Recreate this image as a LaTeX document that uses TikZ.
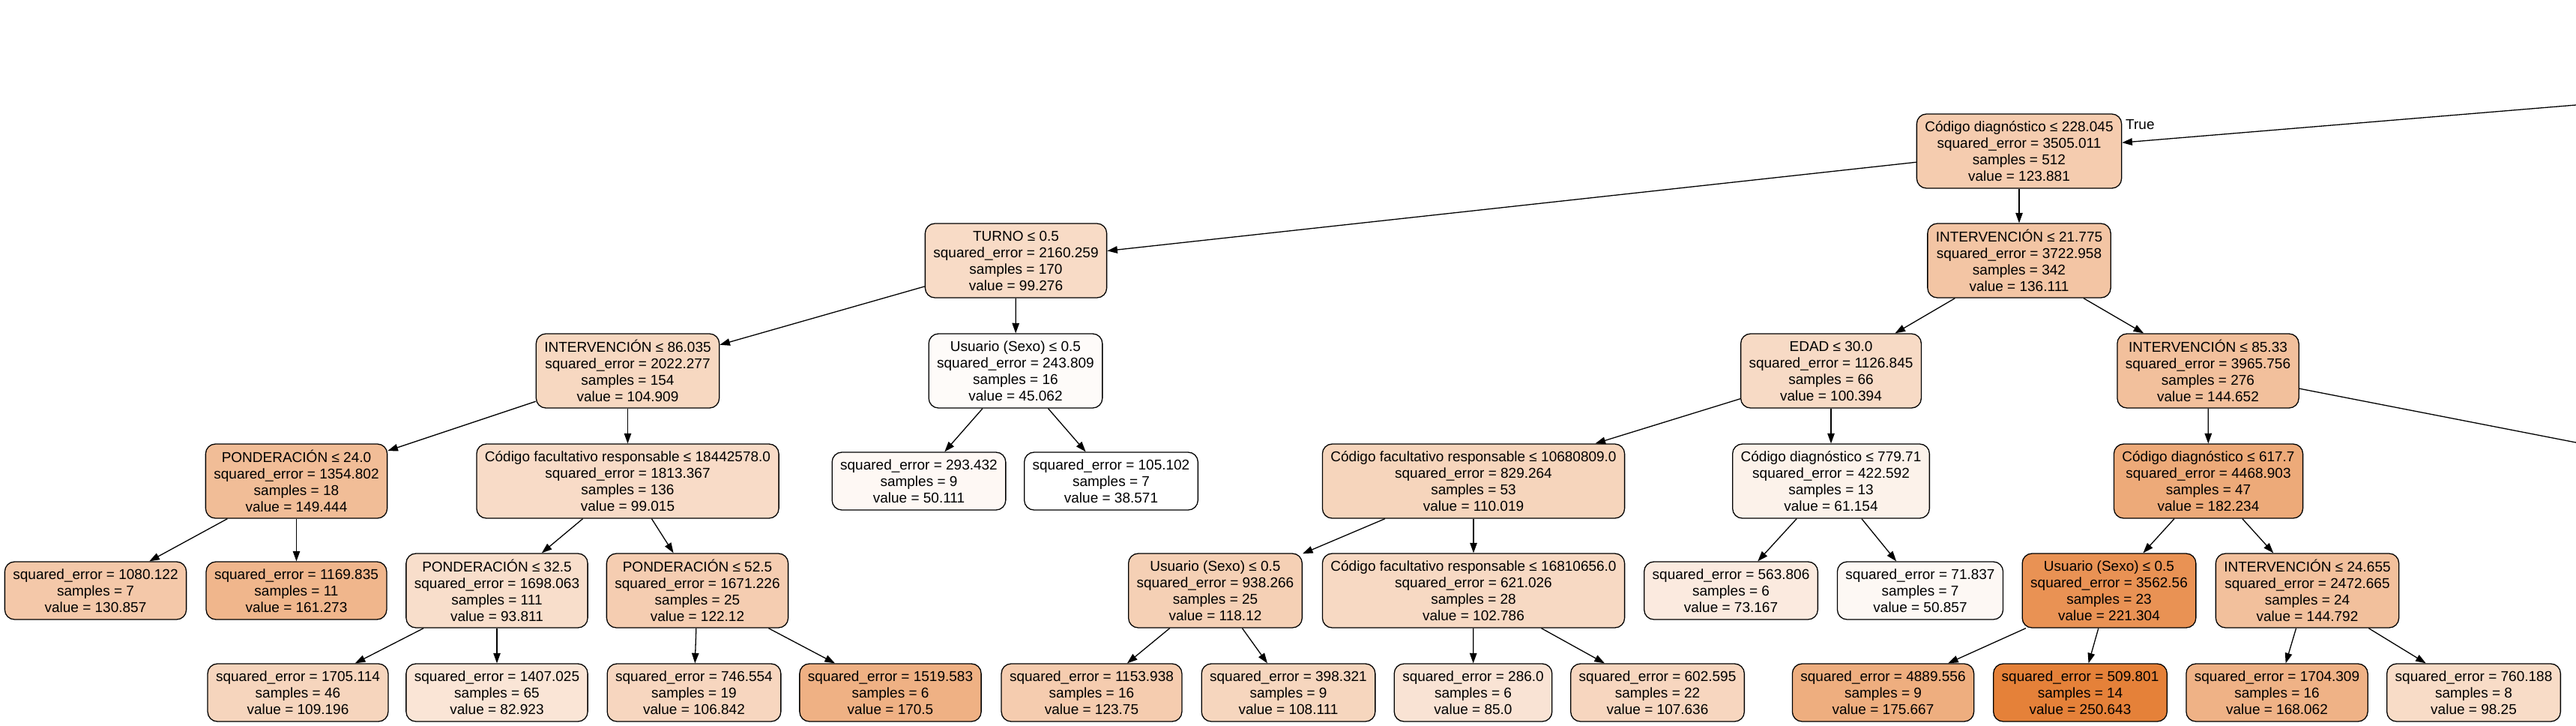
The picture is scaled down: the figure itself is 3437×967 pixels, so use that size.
\documentclass[tikz,border=0pt]{standalone}
\usepackage{fontspec}
\setmainfont{Liberation Sans}
\usepackage{xcolor}
\usetikzlibrary{arrows.meta}

\definecolor{dtorange}{HTML}{E58139}
\newcommand{\stats}[3]{squared\_error = #1\\samples = #2\\value = #3}

\begin{document}
\begin{tikzpicture}[x=1pt,y=-1pt,
  box/.style={draw=black, line width=1.3pt, rounded corners=13pt, align=center,
    inner xsep=11pt, inner ysep=0pt, font=\fontsize{19}{22}\selectfont},
  split/.style={box, minimum height=99pt},
  leaf/.style={box, minimum height=77pt},
  tint/.code={\pgfmathsetmacro\pct{(#1-38.571)/2.12072}%
    \edef\tmpfill{\noexpand\tikzset{fill=dtorange!\pct!white}}\tmpfill},
  edge/.style={-{Triangle[length=13.6pt,width=9.5pt]}, line width=1.3pt}]
  \useasboundingbox (0,0) rectangle (3437,967);

  % Level 0 and 1
  \node[split, tint=123.881] (cd228) at (2694,201.5) {Código diagnóstico ≤ 228.045\\\stats{3505.011}{512}{123.881}};
  \node[split, tint=99.276] (turno) at (1355.5,347.5) {TURNO ≤ 0.5\\\stats{2160.259}{170}{99.276}};
  \node[split, tint=136.111] (int21) at (2694,347.5) {INTERVENCIÓN ≤ 21.775\\\stats{3722.958}{342}{136.111}};

  % Level 2
  \node[split, tint=104.909] (int86) at (837.5,494.5) {INTERVENCIÓN ≤ 86.035\\\stats{2022.277}{154}{104.909}};
  \node[split, tint=45.062] (sexo16) at (1355,494.5) {Usuario (Sexo) ≤ 0.5\\\stats{243.809}{16}{45.062}};
  \node[split, tint=100.394] (edad) at (2443,494.5) {EDAD ≤ 30.0\\\stats{1126.845}{66}{100.394}};
  \node[split, tint=144.652] (int85) at (2946,494.5) {INTERVENCIÓN ≤ 85.33\\\stats{3965.756}{276}{144.652}};

  % Level 3
  \node[split, tint=149.444] (pond24) at (395.5,641.5) {PONDERACIÓN ≤ 24.0\\\stats{1354.802}{18}{149.444}};
  \node[split, tint=99.015] (cf184) at (837.5,641.5) {Código facultativo responsable ≤ 18442578.0\\\stats{1813.367}{136}{99.015}};
  \node[leaf, tint=50.111] (lf293) at (1226,641.5) {\stats{293.432}{9}{50.111}};
  \node[leaf, tint=38.571] (lf105) at (1482.5,641.5) {\stats{105.102}{7}{38.571}};
  \node[split, tint=110.019] (cf106) at (1966,641.5) {Código facultativo responsable ≤ 10680809.0\\\stats{829.264}{53}{110.019}};
  \node[split, tint=61.154] (cd779) at (2443,641.5) {Código diagnóstico ≤ 779.71\\\stats{422.592}{13}{61.154}};
  \node[split, tint=182.234] (cd617) at (2946.5,641.5) {Código diagnóstico ≤ 617.7\\\stats{4468.903}{47}{182.234}};

  % Level 4
  \node[leaf, tint=130.857] (lf1080) at (127.5,787.5) {\stats{1080.122}{7}{130.857}};
  \node[leaf, tint=161.273] (lf1169) at (395.5,787.5) {\stats{1169.835}{11}{161.273}};
  \node[split, tint=93.811] (pond32) at (663,787.5) {PONDERACIÓN ≤ 32.5\\\stats{1698.063}{111}{93.811}};
  \node[split, tint=122.12] (pond52) at (930.5,787.5) {PONDERACIÓN ≤ 52.5\\\stats{1671.226}{25}{122.12}};
  \node[split, tint=118.12] (sexo25) at (1621.5,787.5) {Usuario (Sexo) ≤ 0.5\\\stats{938.266}{25}{118.12}};
  \node[split, tint=102.786] (cf168) at (1966,787.5) {Código facultativo responsable ≤ 16810656.0\\\stats{621.026}{28}{102.786}};
  \node[leaf, tint=73.167] (lf563) at (2309.5,787.5) {\stats{563.806}{6}{73.167}};
  \node[leaf, tint=50.857] (lf71) at (2562,787.5) {\stats{71.837}{7}{50.857}};
  \node[split, tint=221.304] (sexo23) at (2814,787.5) {Usuario (Sexo) ≤ 0.5\\\stats{3562.56}{23}{221.304}};
  \node[split, tint=144.792] (int24) at (3078.5,787.5) {INTERVENCIÓN ≤ 24.655\\\stats{2472.665}{24}{144.792}};

  % Level 5
  \node[leaf, tint=109.196] (lf1705) at (397.5,923.5) {\stats{1705.114}{46}{109.196}};
  \node[leaf, tint=82.923] (lf1407) at (663,923.5) {\stats{1407.025}{65}{82.923}};
  \node[leaf, tint=106.842] (lf746) at (926,923.5) {\stats{746.554}{19}{106.842}};
  \node[leaf, tint=170.5] (lf1519) at (1188,923.5) {\stats{1519.583}{6}{170.5}};
  \node[leaf, tint=123.75] (lf1153) at (1456.5,923.5) {\stats{1153.938}{16}{123.75}};
  \node[leaf, tint=108.111] (lf398) at (1719,923.5) {\stats{398.321}{9}{108.111}};
  \node[leaf, tint=85.0] (lf286) at (1965.5,923.5) {\stats{286.0}{6}{85.0}};
  \node[leaf, tint=107.636] (lf602) at (2211.5,923.5) {\stats{602.595}{22}{107.636}};
  \node[leaf, tint=175.667] (lf4889) at (2512.5,923.5) {\stats{4889.556}{9}{175.667}};
  \node[leaf, tint=250.643] (lf509) at (2775.5,923.5) {\stats{509.801}{14}{250.643}};
  \node[leaf, tint=168.062] (lf1704) at (3038,923.5) {\stats{1704.309}{16}{168.062}};
  \node[leaf, tint=98.25] (lf760) at (3300.5,923.5) {\stats{760.188}{8}{98.25}};

  % Edges
  \foreach \a/\b in {cd228/turno, cd228/int21, turno/int86, turno/sexo16,
      int21/edad, int21/int85, int86/pond24, int86/cf184, sexo16/lf293, sexo16/lf105,
      edad/cf106, edad/cd779, int85/cd617, pond24/lf1080, pond24/lf1169,
      cf184/pond32, cf184/pond52, cf106/sexo25, cf106/cf168, cd779/lf563, cd779/lf71,
      cd617/sexo23, cd617/int24, pond32/lf1705, pond32/lf1407, pond52/lf746, pond52/lf1519,
      sexo25/lf1153, sexo25/lf398, cf168/lf286, cf168/lf602, sexo23/lf4889, sexo23/lf509,
      int24/lf1704, int24/lf760}
    \draw[edge] (\a) -- (\b);

  % Edges leaving the picture
  \coordinate (parent) at (3437,140);
  \coordinate (rightchild) at (3437,590);
  \draw[edge] (parent) -- (cd228);
  \draw[line width=1.3pt] (int85) -- (rightchild);
  \node[anchor=base west, inner sep=0pt, font=\fontsize{19}{22}\selectfont] (truelbl) at (2836,172) {True};
\end{tikzpicture}
\end{document}
